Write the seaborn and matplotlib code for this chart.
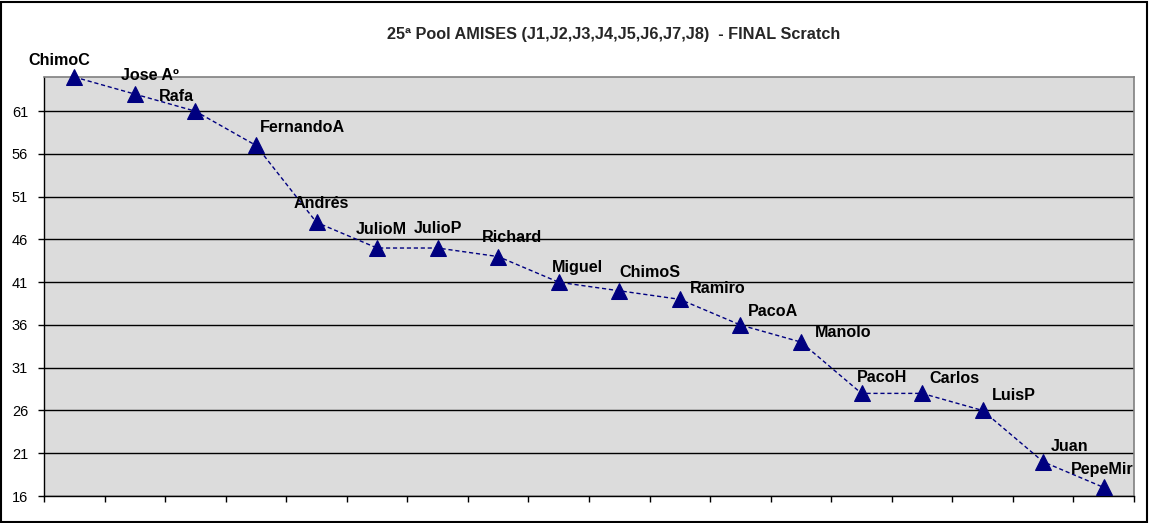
import numpy as np
import pandas as pd
import matplotlib
matplotlib.use("Agg")
import matplotlib.pyplot as plt
from matplotlib.patches import Rectangle
import seaborn as sns

# data
players = ["ChimoC", "Jose Aº", "Rafa", "FernandoA", "Andrés", "JulioM", "JulioP",
           "Richard", "Miguel", "ChimoS", "Ramiro", "PacoA", "Manolo", "PacoH",
           "Carlos", "LuisP", "Juan", "PepeMir"]
scores = [65, 63, 61, 57, 48, 45, 45, 44, 41, 40, 39, 36, 34, 28, 28, 26, 20, 17]
y_ticks = [16, 21, 26, 31, 36, 41, 46, 51, 56, 61]
title = "25ª Pool AMISES (J1,J2,J3,J4,J5,J6,J7,J8)  - FINAL Scratch"

# label placement (pixel offsets of label's left edge / centre from the marker)
label_offsets = [(-46, 17), (-14, 19), (-37, 15), (4, 18), (-23, 19), (-21, 19),
                 (-24, 20), (-16, 19), (-7, 15), (0, 18), (10, 11), (7, 13),
                 (14, 10), (-5, 16), (7, 15), (9, 15), (8, 15), (-33, 18)]

sns.set_style("white")
plt.rcParams["font.family"] = ["Liberation Sans", "DejaVu Sans"]

df = pd.DataFrame({"pos": np.arange(len(players)), "score": scores, "player": players})

fig = plt.figure(figsize=(11.49, 5.23), dpi=100)
ax = fig.add_axes([44 / 1149, 1 - 496 / 523, 1090 / 1149, 419 / 523])
ax.set_facecolor("#DCDCDC")

for t in y_ticks:
    ax.axhline(t, color="black", lw=1, zorder=1)

sns.lineplot(data=df, x="pos", y="score", ax=ax, color="#000080", lw=1,
             marker="^", markersize=11, markeredgecolor="#000080",
             linestyle=(0, (3, 2)), zorder=3, clip_on=False)

for i, (name, val) in enumerate(zip(players, scores)):
    dx, dy = label_offsets[i]
    ax.annotate(name, (i, val), xytext=(dx, dy), textcoords="offset pixels",
                ha="left", va="center", fontsize=11.6, fontweight="bold",
                color="black", zorder=4, annotation_clip=False)

ax.set_xlim(-0.5, len(players) - 0.5)
ax.set_ylim(16, 65)
ax.set_yticks(y_ticks)
ax.set_xticks(np.arange(-0.5, len(players), 1))
ax.set_xticklabels([])
ax.set_xlabel("")
ax.set_ylabel("")
ax.tick_params(axis="both", direction="out", length=4, width=1, color="black",
               labelsize=10.5, labelcolor="black")
ax.tick_params(axis="x", bottom=True)
ax.tick_params(axis="y", left=True, pad=7.5)

for s in ["left", "bottom"]:
    ax.spines[s].set_color("black")
    ax.spines[s].set_linewidth(1)
for s in ["top", "right"]:
    ax.spines[s].set_color("#808080")
    ax.spines[s].set_linewidth(1.2)

fig.text(614 / 1149, 1 - 35 / 523, title, ha="center", va="center",
         fontsize=11.7, fontweight="bold")

fig.patches.append(Rectangle((0.001, 0.002), 0.997, 0.995, transform=fig.transFigure,
                             fill=False, edgecolor="black", lw=1.5))

fig.savefig("out.png", dpi=100, facecolor="white")
